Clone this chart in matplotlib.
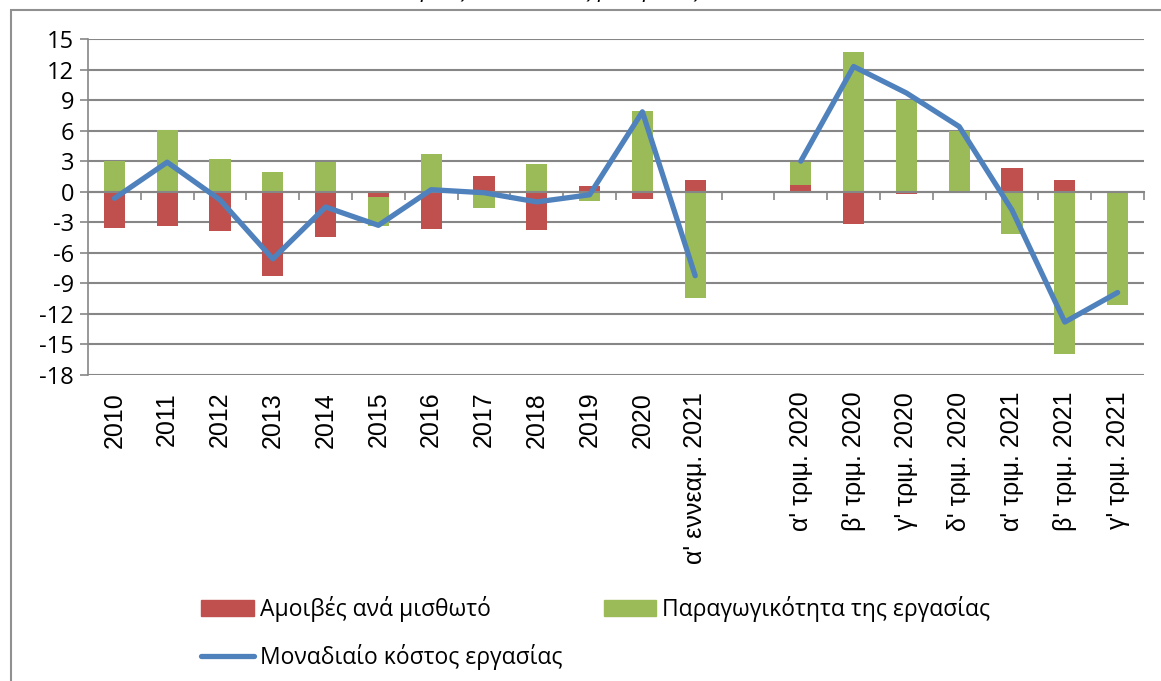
import numpy as np
import matplotlib
matplotlib.use("Agg")
import matplotlib.pyplot as plt
from matplotlib.patches import Patch, Rectangle
from matplotlib.lines import Line2D

# categories (empty slot separates annual and quarterly data)
categories = ["2010", "2011", "2012", "2013", "2014", "2015", "2016", "2017",
              "2018", "2019", "2020", "α' εννεαμ. 2021", "",
              "α' τριμ. 2020", "β' τριμ. 2020", "γ' τριμ. 2020", "δ' τριμ. 2020",
              "α' τριμ. 2021", "β' τριμ. 2021", "γ' τριμ. 2021"]

# Αμοιβές ανά μισθωτό
wages = [-3.6, -3.4, -3.9, -8.3, -4.4, -0.5, -3.7, 1.5, -3.8, 0.6, -0.7, 1.15, np.nan,
         0.7, -3.2, -0.2, 0.0, 2.3, 1.15, 0.0]
# Παραγωγικότητα της εργασίας
productivity = [3.0, 6.1, 3.2, 1.9, 2.95, -2.9, 3.7, -1.6, 2.7, -0.9, 7.9, -10.4, np.nan,
                2.25, 13.75, 9.0, 6.0, -4.2, -15.9, -11.1]
# Μοναδιαίο κόστος εργασίας
ulc = [-0.65, 2.9, -0.8, -6.6, -1.5, -3.3, 0.2, -0.1, -1.0, -0.3, 7.85, -8.25, np.nan,
       3.0, 12.3, 9.7, 6.4, -1.8, -12.8, -9.9]

yticks = list(range(15, -19, -3))

RED = "#C0504D"
GREEN = "#9BBB59"
BLUE = "#4F81BD"
GRID = "#868686"

fig = plt.figure(figsize=(11.61, 6.81), dpi=100)
ax = fig.add_axes([88 / 1161, 1 - 375 / 681, 1056 / 1161, 336 / 681])

x = np.arange(len(categories))
w = np.nan_to_num(np.array(wages))
p = np.nan_to_num(np.array(productivity))
# Excel-style stacking: same-sign values stack on top of each other
p_bottom = np.where(np.sign(p) == np.sign(w), w, 0.0)

ax.bar(x, w, width=0.4, color=RED, zorder=2)
ax.bar(x, p, width=0.4, bottom=p_bottom, color=GREEN, zorder=2)
ax.plot(x, ulc, color=BLUE, lw=3.8, solid_joinstyle="round",
        solid_capstyle="round", zorder=3)

ax.set_xlim(-0.5, len(categories) - 0.5)
ax.set_ylim(-18, 15)
ax.set_yticks(yticks)
ax.set_yticklabels([str(v) for v in yticks], fontsize=17,
                   family=["Open Sans", "DejaVu Sans"])
ax.tick_params(axis="y", direction="out", length=6, width=1.2, color=GRID, pad=4)
ax.yaxis.grid(True, color=GRID, lw=1.5, zorder=0)
ax.set_axisbelow(True)

for s in ["top", "right"]:
    ax.spines[s].set_visible(False)
ax.spines["left"].set_color(GRID)
ax.spines["left"].set_linewidth(1.2)
ax.spines["bottom"].set_position(("data", 0))
ax.spines["bottom"].set_color(GRID)
ax.spines["bottom"].set_linewidth(1.5)
ax.set_xticks(np.arange(-0.5, len(categories)))
ax.set_xticklabels([])
ax.tick_params(axis="x", direction="out", length=6, width=1.2, color=GRID)

for i, lab in enumerate(categories):
    ax.text(i, -0.05, lab, transform=ax.get_xaxis_transform(), rotation=90,
            ha="center", va="top", fontsize=18,
            family=["Liberation Sans", "DejaVu Sans"])

# outer chart frame
fig.patches.append(Rectangle((11 / 1161, -0.1), 1.2, 1 - 10 / 681 + 0.1,
                             transform=fig.transFigure, fill=False,
                             edgecolor="#909090", lw=1.5))

# clipped title line above the chart
fig.text(388 / 1161, 1 + 3 / 681, "(ετήσιες ποσοστιαίες μεταβολές, %)",
         fontsize=16, style="italic", va="baseline", ha="left",
         family=["Open Sans", "DejaVu Sans"])

handles = [Patch(color=RED), Line2D([], [], color=BLUE, lw=3.8, solid_capstyle="round"),
           Patch(color=GREEN)]
labels = ["Αμοιβές ανά μισθωτό", "Μοναδιαίο κόστος εργασίας", "Παραγωγικότητα της εργασίας"]
fig.legend(handles, labels, ncol=2, frameon=False,
           loc="upper left", bbox_to_anchor=(190 / 1161, 1 - 585 / 681),
           prop={"family": ["Open Sans", "DejaVu Sans"], "size": 16.5},
           handlelength=2.3, handleheight=0.7, handletextpad=0.25,
           columnspacing=1.8, labelspacing=0.95, borderpad=0)

fig.savefig("out.png", dpi=100)
